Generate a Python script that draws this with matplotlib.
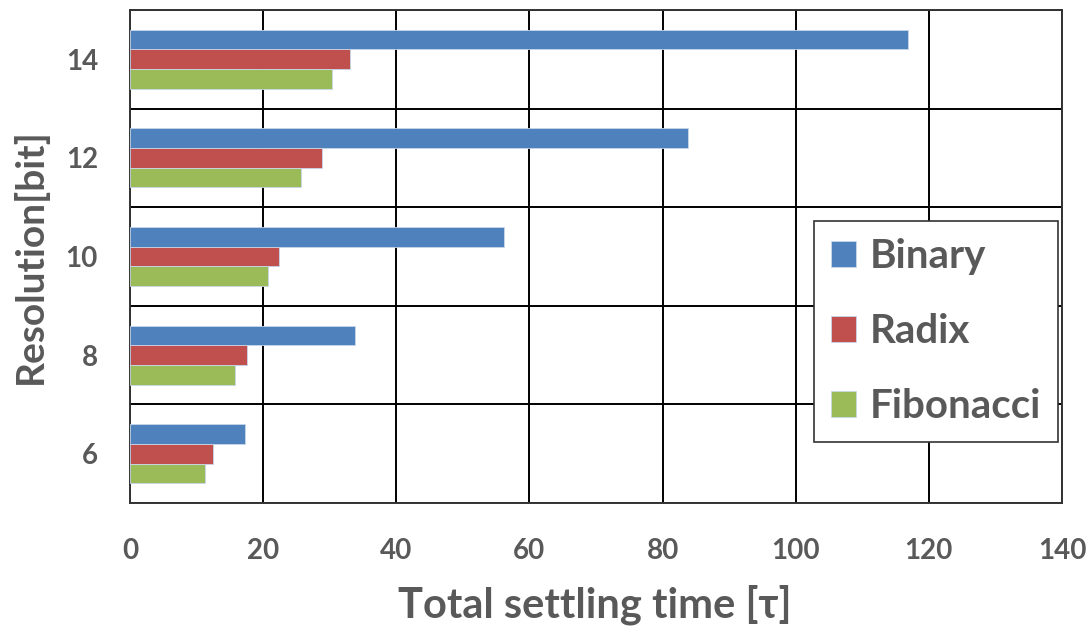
import matplotlib
matplotlib.use("Agg")
import matplotlib.pyplot as plt
import numpy as np

categories = ["6", "8", "10", "12", "14"]
binary = [17.3, 33.8, 56.2, 83.8, 116.9]
radix = [12.4, 17.5, 22.4, 28.9, 33.1]
fibonacci = [11.2, 15.8, 20.8, 25.7, 30.3]
series_names = ["Binary", "Radix", "Fibonacci"]
colors = ["#4F81BD", "#C0504D", "#9BBB59"]
xticks = [0, 20, 40, 60, 80, 100, 120, 140]

plt.rcParams['font.family'] = ['Lato', 'DejaVu Sans']
plt.rcParams['font.weight'] = 'bold'
gray = "#595959"

fig = plt.figure(figsize=(10.9, 6.27), dpi=100)
ax = fig.add_axes([130/1090, 1 - 503/627, 932/1090, 493/627])

y = np.arange(len(categories))
h = 0.2
for vals, off, name, c in zip([binary, radix, fibonacci], [h, 0, -h], series_names, colors):
    ax.barh(y + off, vals, height=h, color=c, edgecolor='#c8d6ea', linewidth=0.6, label=name, zorder=3)

ax.set_xlim(0, 140)
ax.set_ylim(-0.5, len(categories) - 0.5)
ax.set_xticks(xticks)
ax.set_xticklabels([str(t) for t in xticks])
ax.set_yticks(y)
ax.set_yticklabels(categories)
ax.set_yticks(np.arange(-0.5, len(categories), 1.0), minor=True)
ax.grid(True, axis='x', which='major', color='black', linewidth=1.4, zorder=1)
ax.grid(True, axis='y', which='minor', color='black', linewidth=1.4, zorder=1)
ax.tick_params(axis='both', which='both', length=0)
ax.tick_params(axis='x', pad=25, labelsize=20, labelcolor=gray)
ax.tick_params(axis='y', pad=23, labelsize=20, labelcolor=gray)
for lab in ax.get_xticklabels() + ax.get_yticklabels():
    lab.set_fontweight('bold')
for s in ax.spines.values():
    s.set_color('#333333')
    s.set_linewidth(1.4)

ax.set_xlabel("Total settling time [τ]", fontsize=30, fontweight='bold', color=gray, va='center')
ax.xaxis.set_label_coords(0.499, (503 - 605) / 493)
ax.set_ylabel("Resolution[bit]", fontsize=28, fontweight='bold', color=gray, va='center')
ax.yaxis.set_label_coords((30 - 130) / 932, (503 - 256) / 493)

leg = ax.legend(loc='upper left', bbox_to_anchor=(814/1090, 1 - 221/627),
                bbox_transform=fig.transFigure, borderaxespad=0,
                fontsize=29, frameon=True, fancybox=False, framealpha=1,
                edgecolor='#333333', handlelength=0.62, handleheight=0.62,
                handletextpad=0.35, labelspacing=0.95, borderpad=0.42)
leg.get_frame().set_linewidth(1.2)
for t in leg.get_texts():
    t.set_color(gray)
    t.set_fontweight('bold')

fig.savefig("out.png", dpi=100)
